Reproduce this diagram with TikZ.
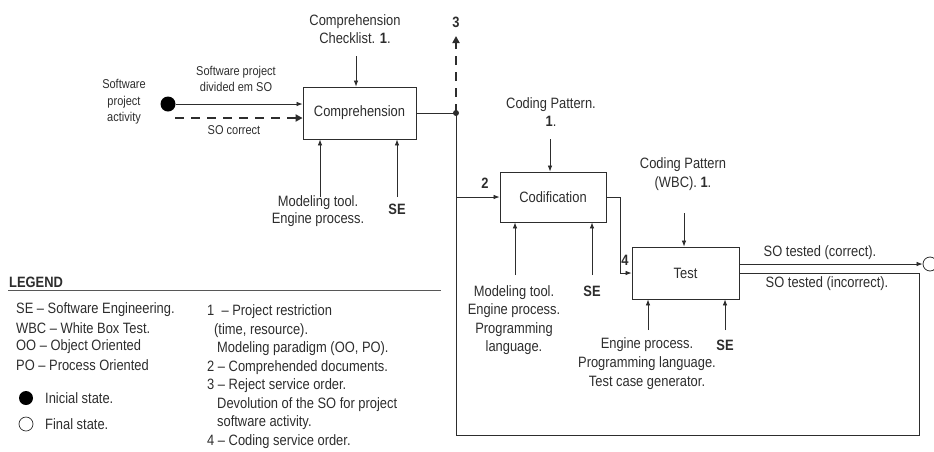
\documentclass[tikz,border=0pt]{standalone}
\usepackage{fontspec}
\setmainfont[FakeStretch=0.86]{Liberation Sans}
\usetikzlibrary{arrows.meta}
\definecolor{ink}{RGB}{45,45,45}
\begin{document}
\begin{tikzpicture}[x=1pt,y=-1pt,
  every node/.style={text=ink, inner sep=0pt},
  box/.style={draw=ink, line width=0.8pt, minimum width=#1, minimum height=52pt, font=\fontsize{15}{18}\selectfont},
  arr/.style={draw=ink, line width=0.75pt, -{Latex[length=6pt,width=4.5pt]}},
  plain/.style={draw=ink, line width=0.75pt},
  dasharr/.style={draw=ink, line width=2.4pt, dash pattern=on 9pt off 7pt, -{Triangle[length=7pt,width=7pt]}},
  lbl/.style={align=center, font=\fontsize{15}{18.5}\selectfont},
  slbl/.style={align=center, font=\fontsize{12.8}{16.5}\selectfont},
  blbl/.style={font=\fontsize{15}{16}\selectfont\bfseries},
  leg/.style={anchor=west, font=\fontsize{15}{16}\selectfont}]
\useasboundingbox (0,0) rectangle (934,451);

% boxes
\node[box=113pt] (comp) at (359.5,113) {Comprehension};
\node[box=106pt, minimum height=50pt] (cod) at (553,197) {Codification};
\node[box=107pt] (test) at (685.5,273) {Test};

% states
\node[circle, fill=black, minimum size=15pt] (start) at (168,104) {};
\node[circle, draw=ink, line width=0.8pt, minimum size=14pt] (end) at (930,264) {};

% coordinates
\coordinate (dstart) at (175,118);
\coordinate (c1) at (356,56);
\coordinate (m1) at (320,197);
\coordinate (m2) at (397,197);
\coordinate (j) at (456,113);
\coordinate (rej) at (456,36);
\coordinate (bl) at (456,435);
\coordinate (br) at (919,435);
\coordinate (c2) at (550,139);
\coordinate (m3) at (515,275);
\coordinate (m4) at (592,275);
\coordinate (c3) at (684,213);
\coordinate (m5) at (648,330);
\coordinate (m6) at (725,330);

% comprehension connectors
\draw[arr] (start.east) -- (start.east -| comp.west);
\draw[dasharr] (dstart) -- (dstart -| comp.west);
\draw[arr] (c1) -- (c1 |- comp.north);
\draw[arr] (m1) -- (m1 |- comp.south);
\draw[arr] (m2) -- (m2 |- comp.south);
\draw[plain] (comp.east) -- (j);
\draw[dasharr] (j) -- (rej);
\fill[ink] (j) circle (3pt);
\draw[plain] (j) -- (bl);

% codification connectors
\draw[arr] (j |- cod.west) -- (cod.west);
\draw[arr] (c2) -- (c2 |- cod.north);
\draw[arr] (m3) -- (m3 |- cod.south);
\draw[arr] (m4) -- (m4 |- cod.south);
\draw[arr] (cod.east) -- ++(14,0) |- (test.west);

% test connectors
\draw[arr] (c3) -- (c3 |- test.north);
\draw[arr] (m5) -- (m5 |- test.south);
\draw[arr] (m6) -- (m6 |- test.south);
\draw[arr] (test.east |- end) -- (end.west);
\draw[plain] (test.east) -| (br) -- (bl);

% labels
\node[lbl] (lc1) at (355,29) {Comprehension\\Checklist. \textbf{1}.};
\node[blbl] (l3) at (456,22) {3};
\node[slbl] (lin) at (236,79) {Software project\\divided em SO};
\node[slbl] (lok) at (234,130) {SO correct};
\node[slbl] (lact) at (124,102) {Software\\project\\activity};
\node[lbl, font=\fontsize{15}{17}\selectfont] (lm1) at (318,211.5) {Modeling tool.\\Engine process.};
\node[blbl] (lse1) at (397,209) {SE};
\node[blbl] (l2) at (485,183) {2};
\node[lbl] (lc2) at (551,112) {Coding Pattern.\\\textbf{1}.};
\node[lbl] (lm3) at (514,320) {Modeling tool.\\Engine process.\\Programming\\language.};
\node[blbl] (lse2) at (592,291) {SE};
\node[lbl] (lc3) at (683,174) {Coding Pattern\\(WBC). \textbf{1}.};
\node[blbl] (l4) at (625,260) {4};
\node[lbl, font=\fontsize{15}{19}\selectfont] (lm5) at (647,364) {Engine process.\\Programming language.\\Test case generator.};
\node[blbl] (lse3) at (725,345) {SE};
\node[lbl] (lok2) at (820,253) {SO tested (correct).};
\node[lbl] (lnok) at (827,284) {SO tested (incorrect).};

% legend
\node[leg, font=\fontsize{15}{16}\selectfont\bfseries] (legt) at (9,282) {LEGEND};
\coordinate (ll) at (8,290);
\coordinate (lr) at (441,290);
\draw[draw=ink!80, line width=0.9pt] (ll) -- (lr);
\node[leg] (g1) at (16,310) {SE – Software Engineering.};
\node[leg] (g2) at (16,328.5) {WBC – White Box Test.};
\node[leg] (g3) at (16,347) {OO – Object Oriented};
\node[leg] (g4) at (16,365.5) {PO – Process Oriented};
\node[circle, fill=black, minimum size=14pt] (gi) at (26,398) {};
\node[leg] (g5) at (45,398) {Inicial state.};
\node[circle, draw=ink, line width=0.7pt, minimum size=14pt] (gf) at (26,424) {};
\node[leg] (g6) at (45,424) {Final state.};
\node[leg] (r1) at (207,312) {1\ \ – Project restriction};
\node[leg] (r2) at (214,330.5) {(time, resource).};
\node[leg] (r3) at (217,349) {Modeling paradigm (OO, PO).};
\node[leg] (r4) at (207,367.5) {2 – Comprehended documents.};
\node[leg] (r5) at (207,386) {3 – Reject service order.};
\node[leg] (r6) at (217,404.5) {Devolution of the SO for project};
\node[leg] (r7) at (217,423) {software activity.};
\node[leg] (r8) at (207,441.5) {4 – Coding service order.};
\end{tikzpicture}
\end{document}
